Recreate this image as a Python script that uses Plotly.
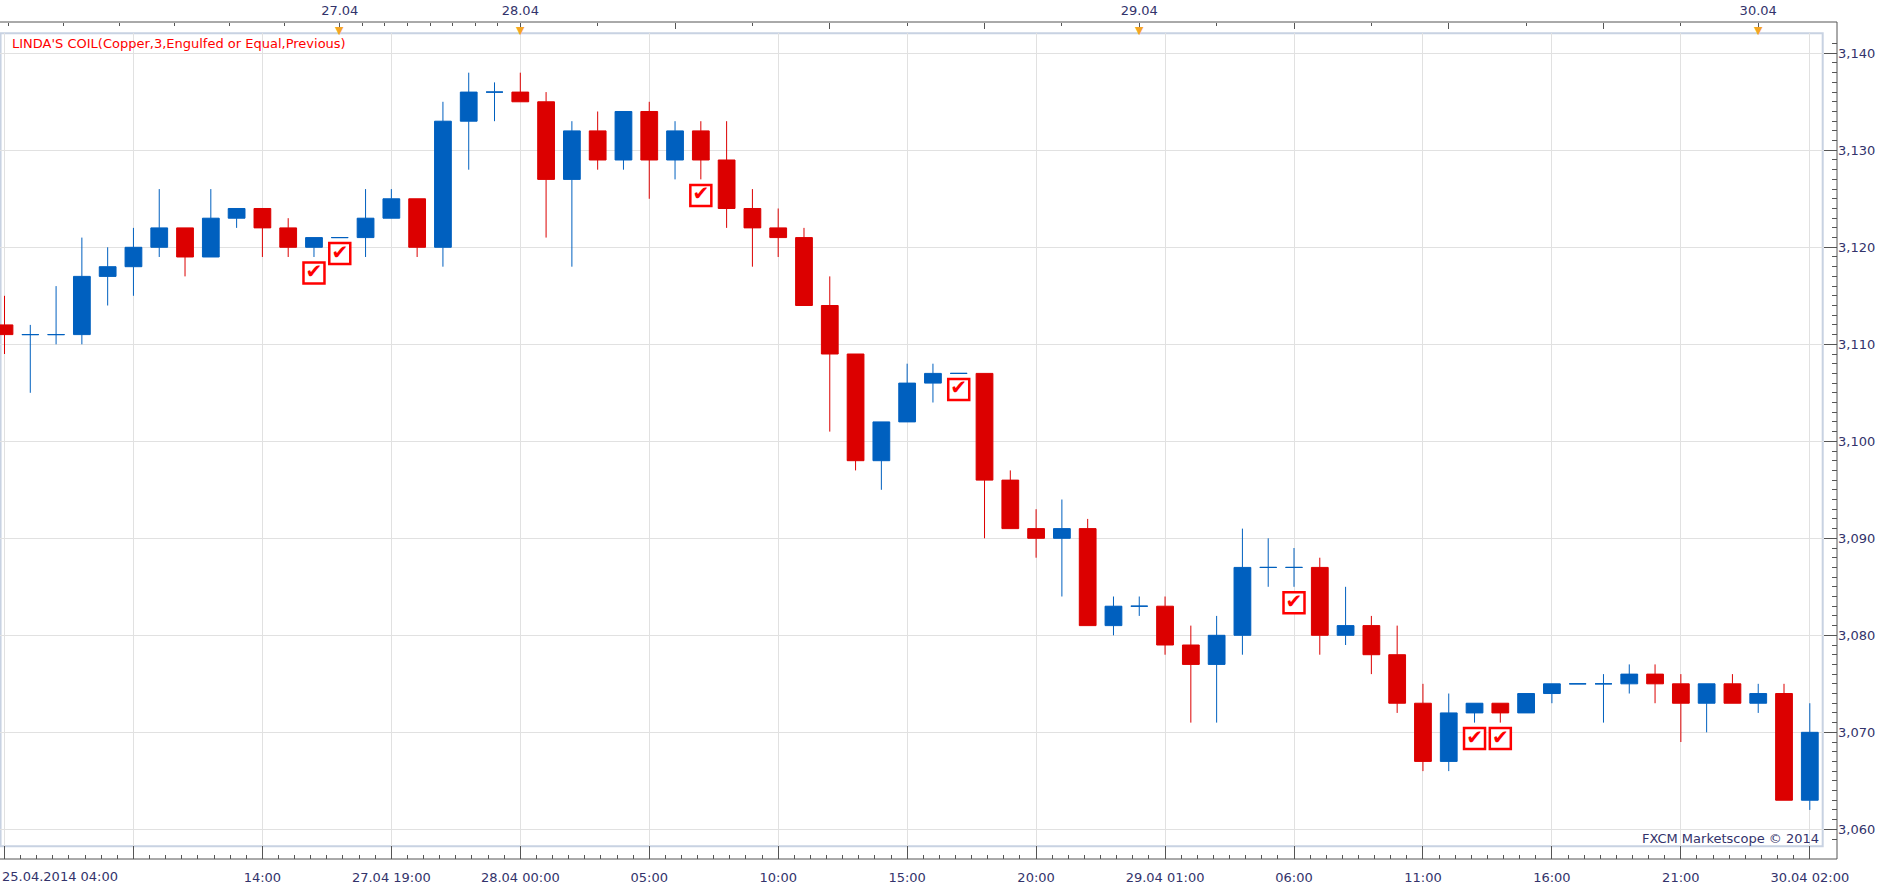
import plotly.graph_objects as go

# ---------------- data (prices, Copper hourly) ----------------
opens = [3.112, 3.111, 3.111, 3.111, 3.117, 3.118, 3.120, 3.122, 3.119, 3.123,
         3.124, 3.122, 3.120, 3.121, 3.121, 3.123, 3.125, 3.120, 3.133, 3.136,
         3.136, 3.135, 3.127, 3.132, 3.129, 3.134, 3.129, 3.132, 3.129, 3.124,
         3.122, 3.121, 3.114, 3.109, 3.098, 3.102, 3.106, 3.107, 3.107, 3.096,
         3.091, 3.090, 3.091, 3.081, 3.083, 3.083, 3.079, 3.077, 3.080, 3.087,
         3.087, 3.087, 3.080, 3.081, 3.078, 3.073, 3.067, 3.072, 3.073, 3.072,
         3.074, 3.075, 3.075, 3.075, 3.076, 3.075, 3.073, 3.075, 3.073, 3.074,
         3.063]
highs = [3.115, 3.112, 3.116, 3.121, 3.120, 3.122, 3.126, 3.122, 3.126, 3.124,
         3.124, 3.123, 3.121, 3.121, 3.126, 3.126, 3.125, 3.135, 3.138, 3.137,
         3.138, 3.136, 3.133, 3.134, 3.134, 3.135, 3.133, 3.133, 3.133, 3.126,
         3.124, 3.122, 3.117, 3.109, 3.102, 3.108, 3.108, 3.107, 3.107, 3.097,
         3.093, 3.094, 3.092, 3.084, 3.084, 3.084, 3.081, 3.082, 3.091, 3.090,
         3.089, 3.088, 3.085, 3.082, 3.081, 3.075, 3.074, 3.073, 3.073, 3.074,
         3.075, 3.075, 3.076, 3.077, 3.077, 3.076, 3.075, 3.076, 3.075, 3.075,
         3.073]
lows = [3.109, 3.105, 3.110, 3.110, 3.114, 3.115, 3.119, 3.117, 3.119, 3.122,
        3.119, 3.119, 3.119, 3.121, 3.119, 3.123, 3.119, 3.118, 3.128, 3.133,
        3.135, 3.121, 3.118, 3.128, 3.128, 3.125, 3.127, 3.127, 3.122, 3.118,
        3.119, 3.114, 3.101, 3.097, 3.095, 3.102, 3.104, 3.107, 3.090, 3.091,
        3.088, 3.084, 3.081, 3.080, 3.082, 3.078, 3.071, 3.071, 3.078, 3.085,
        3.085, 3.078, 3.079, 3.076, 3.072, 3.066, 3.066, 3.071, 3.071, 3.072,
        3.073, 3.075, 3.071, 3.074, 3.073, 3.069, 3.070, 3.073, 3.072, 3.063,
        3.062]
closes = [3.111, 3.111, 3.111, 3.117, 3.118, 3.120, 3.122, 3.119, 3.123, 3.124,
          3.122, 3.120, 3.121, 3.121, 3.123, 3.125, 3.120, 3.133, 3.136, 3.136,
          3.135, 3.127, 3.132, 3.129, 3.134, 3.129, 3.132, 3.129, 3.124, 3.122,
          3.121, 3.114, 3.109, 3.098, 3.102, 3.106, 3.107, 3.107, 3.096, 3.091,
          3.090, 3.091, 3.081, 3.083, 3.083, 3.079, 3.077, 3.080, 3.087, 3.087,
          3.087, 3.080, 3.081, 3.078, 3.073, 3.067, 3.072, 3.073, 3.072, 3.074,
          3.075, 3.075, 3.075, 3.076, 3.075, 3.073, 3.075, 3.073, 3.074, 3.063,
          3.070]

# bar positions where the LINDA'S COIL signal fired
signal_bars = [12, 13, 27, 37, 50, 57, 58]

# bottom time axis (every 5th bar)
bottom_tick_bars = [0, 5, 10, 15, 20, 25, 30, 35, 40, 45, 50, 55, 60, 65, 70]
bottom_tick_text = ["", "", "14:00", "27.04 19:00", "28.04 00:00", "05:00", "10:00",
                    "15:00", "20:00", "29.04 01:00", "06:00", "11:00", "16:00",
                    "21:00", "30.04 02:00"]
first_label = "25.04.2014 04:00"

# top date axis
day_bars = [13, 20, 44, 68]
day_text = ["27.04", "28.04", "29.04", "30.04"]
top_long_ticks = [26, 32, 38, 50, 56, 62]
top_short_ticks = [0.16, 2.3, 4.44, 6.58, 8.72, 10.86, 13.875, 14.75, 15.625, 16.5,
                   17.375, 18.25, 19.125, 23, 29, 35, 41, 47, 53, 59, 65]

price_ticks = [3.06, 3.07, 3.08, 3.09, 3.10, 3.11, 3.12, 3.13, 3.14]

# ---------------- style ----------------
BLUE = "#0060BF"
RED = "#DC0000"
TXT = "#33336B"
GRID = "#E1E1E1"
FRAME = "#C8D2E2"
AX = "#555555"
FONT = "DejaVu Sans"
FS = 13

W, H = 1903, 889
ML, MR, MT, MB = 0, 66, 22, 30
pw, ph = W - ML - MR, H - MT - MB          # paper area 1837 x 837
x_dom = [0, 1822.7 / pw]
y_dom = [(859 - 846.3) / ph, (859 - 33.3) / ph]
x_range = [-0.1745, 70.5]
y_range = [3.05825, 3.14206]

bars = list(range(len(opens)))
up = [i for i in bars if closes[i] >= opens[i]]
dn = [i for i in bars if closes[i] < opens[i]]

fig = go.Figure()


def add_candles(sel, color):
    fig.add_trace(go.Candlestick(
        x=sel,
        open=[opens[i] for i in sel], high=[highs[i] for i in sel],
        low=[lows[i] for i in sel], close=[closes[i] for i in sel],
        increasing=dict(line=dict(color=color, width=1), fillcolor=color),
        decreasing=dict(line=dict(color=color, width=1), fillcolor=color),
        whiskerwidth=0, showlegend=False, hoverinfo="skip"))


add_candles(up, BLUE)
add_candles(dn, RED)

# signal check boxes below the bar's low
sig_off = 0.00165
fig.add_trace(go.Scatter(
    x=signal_bars, y=[lows[i] - sig_off for i in signal_bars],
    mode="markers+text", text=["\u2714"] * len(signal_bars),
    textposition="middle center",
    textfont=dict(family=FONT, size=20, color="#FF0000"),
    marker=dict(symbol="square", size=21, color="white",
                line=dict(color="#FF0000", width=2.5)),
    showlegend=False, hoverinfo="skip", cliponaxis=False))

# invisible helper so that the top axis is rendered
fig.add_trace(go.Scatter(x=day_bars, y=[closes[i] for i in day_bars], xaxis="x2",
                         mode="markers", marker=dict(opacity=0), showlegend=False,
                         hoverinfo="skip"))

tickfont = dict(family=FONT, size=FS, color=TXT)

fig.update_layout(
    width=W, height=H, margin=dict(l=ML, r=MR, t=MT, b=MB, autoexpand=False),
    paper_bgcolor="white", plot_bgcolor="white",
    separators=",.", boxgap=0.35, boxgroupgap=0,
    xaxis=dict(domain=x_dom, range=x_range, anchor="free", position=0,
               tickmode="array", tickvals=bottom_tick_bars, ticktext=bottom_tick_text,
               ticks="inside", ticklen=13, tickcolor=AX, tickwidth=1,
               minor=dict(dtick=0.625, tick0=0, ticks="inside", ticklen=4,
                          tickcolor=AX, showgrid=False),
               showgrid=True, gridcolor=GRID, gridwidth=1, showline=False,
               zeroline=False, tickfont=tickfont, rangeslider=dict(visible=False),
               fixedrange=True, automargin=False, ticklabelstandoff=9),
    xaxis2=dict(overlaying="x", side="top", anchor="free", position=1,
                domain=x_dom, range=x_range,
                tickmode="array", tickvals=day_bars + top_long_ticks,
                ticktext=day_text + [""] * len(top_long_ticks),
                ticks="inside", ticklen=6, tickcolor=AX, tickwidth=1,
                minor=dict(tickmode="array", tickvals=top_short_ticks, ticks="inside",
                           ticklen=3, tickcolor=AX, showgrid=False),
                showgrid=False, showline=False, zeroline=False, tickfont=tickfont,
                fixedrange=True, automargin=False, ticklabelstandoff=4),
    yaxis=dict(domain=y_dom, range=y_range, side="right", anchor="free", position=1,
               tickmode="array", tickvals=price_ticks, tickformat=".3f",
               ticks="inside", ticklen=13, tickcolor=AX, tickwidth=1,
               minor=dict(dtick=0.001, tick0=3.06, ticks="inside", ticklen=5,
                          tickcolor=AX, showgrid=False),
               showgrid=True, gridcolor=GRID, gridwidth=1, showline=False,
               zeroline=False, tickfont=tickfont, fixedrange=True, automargin=False),
    showlegend=False,
)

shapes = [
    # plot frame
    dict(type="rect", xref="paper", yref="paper", x0=x_dom[0] + 0.0003, x1=x_dom[1],
         y0=y_dom[0], y1=y_dom[1], line=dict(color=FRAME, width=2), layer="below"),
    # outer axis lines
    dict(type="line", xref="paper", yref="paper", x0=0, x1=1, y0=0, y1=0,
         line=dict(color=AX, width=1)),
    dict(type="line", xref="paper", yref="paper", x0=0, x1=1, y0=1, y1=1,
         line=dict(color=AX, width=1)),
    dict(type="line", xref="paper", yref="paper", x0=1, x1=1, y0=0, y1=1,
         line=dict(color=AX, width=1)),
]
fig.update_layout(shapes=shapes)

annotations = [
    dict(text="LINDA'S COIL(Copper,3,Engulfed or Equal,Previous)", xref="paper",
         yref="paper", x=10 / pw, y=(859 - 43.7) / ph, xanchor="left",
         yanchor="middle", showarrow=False,
         font=dict(family=FONT, size=FS, color="#FF0000")),
    dict(text="FXCM Marketscope \u00a9 2014", xref="paper", yref="paper",
         x=1821 / pw, y=(859 - 838) / ph, xanchor="right", yanchor="middle",
         showarrow=False, font=dict(family=FONT, size=FS, color=TXT)),
    dict(text=first_label, xref="paper", yref="paper", x=0, y=-(876 - 859) / ph,
         xanchor="left", yanchor="middle", showarrow=False, font=tickfont),
]
for b in day_bars:
    annotations.append(dict(text="\u25bc", xref="x", yref="paper", x=b, y=1,
                            xanchor="center", yanchor="top", showarrow=False,
                            font=dict(family=FONT, size=11, color="#F5A623")))
fig.update_layout(annotations=annotations)

fig.write_html("out.html")
